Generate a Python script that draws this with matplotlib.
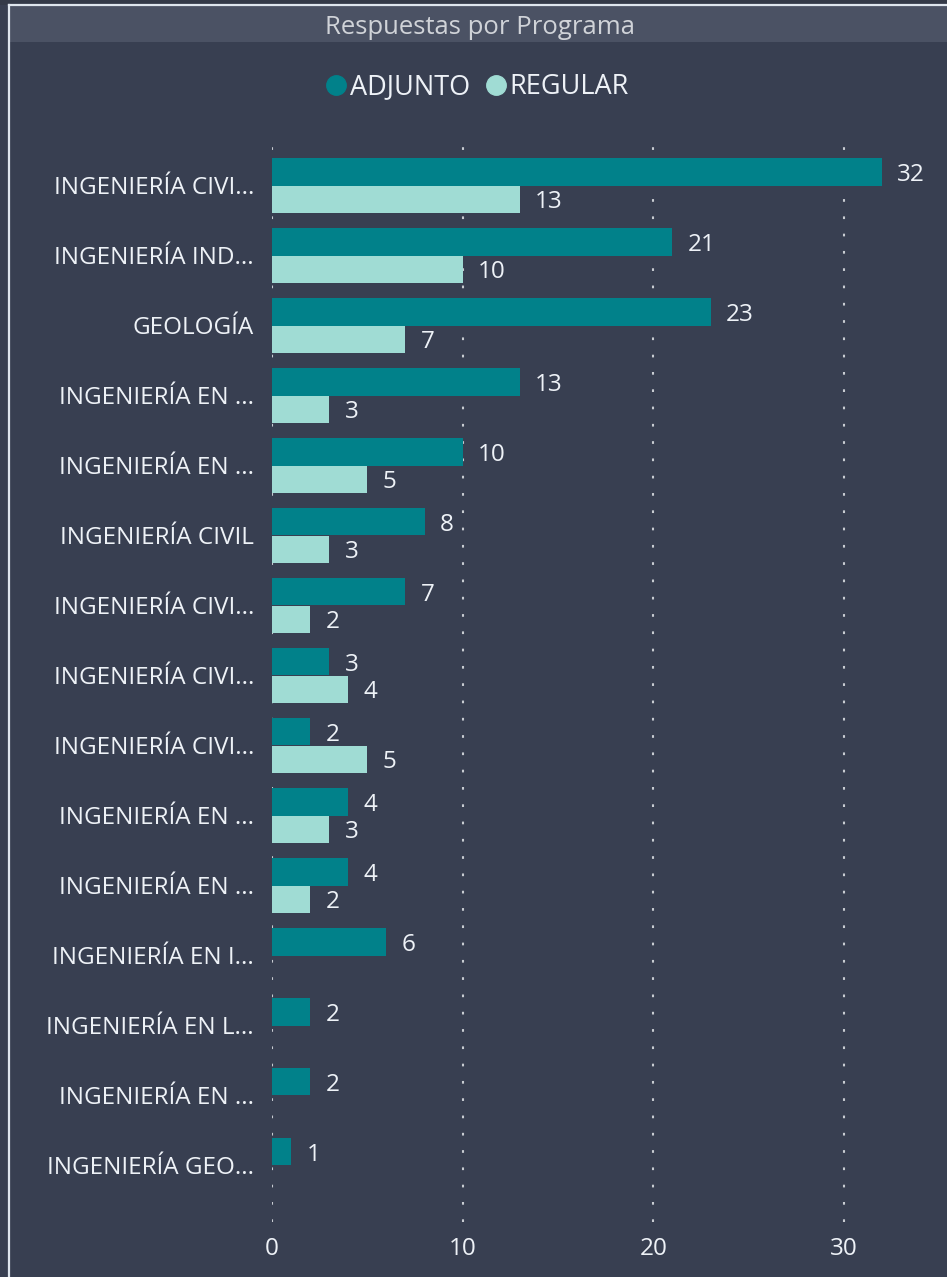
import numpy as np
import matplotlib.pyplot as plt
from matplotlib.lines import Line2D
from matplotlib.patches import Rectangle

plt.rcParams['font.family'] = ['Open Sans', 'DejaVu Sans']

programas = ["INGENIERÍA CIVI...", "INGENIERÍA IND...", "GEOLOGÍA", "INGENIERÍA EN ...",
             "INGENIERÍA EN ...", "INGENIERÍA CIVIL", "INGENIERÍA CIVI...", "INGENIERÍA CIVI...",
             "INGENIERÍA CIVI...", "INGENIERÍA EN ...", "INGENIERÍA EN ...", "INGENIERÍA EN I...",
             "INGENIERÍA EN L...", "INGENIERÍA EN ...", "INGENIERÍA GEO..."]
adjunto = [32, 21, 23, 13, 10, 8, 7, 3, 2, 4, 4, 6, 2, 2, 1]
regular = [13, 10, 7, 3, 5, 3, 2, 4, 5, 3, 2, None, None, None, None]
ticks = [0, 10, 20, 30]

bg = "#383f51"
c_adj = "#01818a"
c_reg = "#a0dcd4"
txt = "#eef2f7"

W, H = 947, 1277
fig = plt.figure(figsize=(W / 100, H / 100), dpi=100, facecolor=bg)

# title bar and frame (left + top lines only)
fig.patches.append(Rectangle((0, 1 - 5 / H), 1, 5 / H, transform=fig.transFigure,
                             facecolor="#343a48", edgecolor="none", zorder=0))
fig.patches.append(Rectangle((9 / W, 1 - 42 / H), 938 / W, 36 / H, transform=fig.transFigure,
                             facecolor="#4b5264", edgecolor="none", zorder=0))
fig.add_artist(Line2D([9 / W, 9 / W], [0, 1 - 5 / H], transform=fig.transFigure,
                      color="#dfe6ee", lw=1.6))
fig.add_artist(Line2D([9 / W, 1], [1 - 5 / H, 1 - 5 / H], transform=fig.transFigure,
                      color="#dfe6ee", lw=1.6))
fig.text(480 / W, 1 - 28 / H, "Respuestas por Programa", ha="center", va="center",
         fontsize=18.5, color="#d0d3d8")

px_unit = (844 - 272) / 30
xmax = 35
ax = fig.add_axes([272 / W, 55 / H, xmax * px_unit / W, (1222 - 135) / H])
ax.set_facecolor(bg)

y = np.arange(len(programas))
h = 0.39
reg = np.array([np.nan if v is None else v for v in regular], dtype=float)
b1 = ax.barh(y - h / 2, adjunto, height=h, color=c_adj, zorder=2)
b2 = ax.barh(y + h / 2, np.nan_to_num(reg), height=h, color=c_reg, zorder=2)

fs = 17.5
for t in ax.bar_label(b1, labels=[str(v) for v in adjunto], padding=11, color=txt, fontsize=fs):
    t.set_va("center_baseline")
for t in ax.bar_label(b2, labels=["" if v is None else str(v) for v in regular], padding=11,
                      color=txt, fontsize=fs):
    t.set_va("center_baseline")

gap = 70
top = -(185.5 - 135) / gap
bot = (1222 - 185.5) / gap
ax.set_ylim(bot, top)
ax.set_xlim(0, xmax)
ax.set_yticks(y)
ax.set_yticklabels(programas, fontsize=fs, color=txt)
ax.set_xticks(ticks)
ax.set_xticklabels([str(t) for t in ticks], fontsize=fs, color=txt)
ax.tick_params(axis="y", length=0, pad=13)
ax.tick_params(axis="x", length=0, pad=11)
for s in ax.spines.values():
    s.set_visible(False)
ax.xaxis.grid(True, color="#c8ccd2", linestyle=(0, (1.3, 7)), lw=1.5, zorder=1)
ax.set_axisbelow(True)

handles = [Line2D([], [], marker="o", ls="", color=c_adj, markersize=14),
           Line2D([], [], marker="o", ls="", color=c_reg, markersize=14)]
fig.legend(handles, ["ADJUNTO", "REGULAR"], loc="center", bbox_to_anchor=(477 / W, 1 - 87 / H),
           ncol=2, frameon=False, fontsize=19.5, labelcolor=txt, handletextpad=0.1,
           columnspacing=0.55, handlelength=0.8, borderpad=0, borderaxespad=0)

fig.savefig("out.png", dpi=100, facecolor=bg)
